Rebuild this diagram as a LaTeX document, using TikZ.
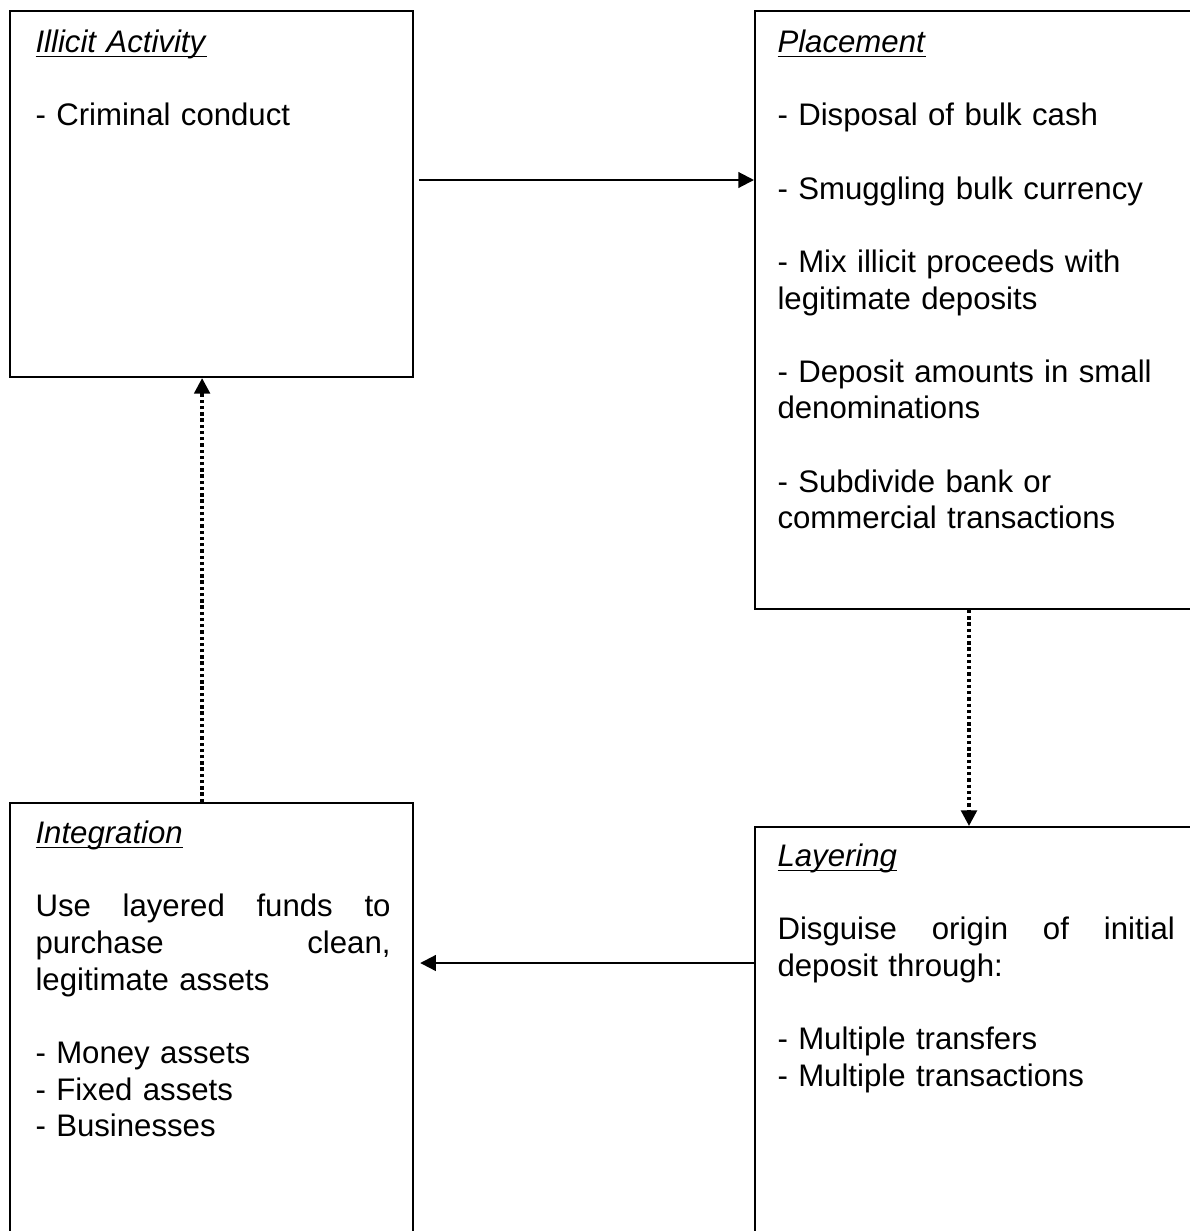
\documentclass[tikz,border=0pt]{standalone}
\usepackage{fontspec}
\setmainfont{Liberation Sans}
\usetikzlibrary{arrows.meta}
\newcommand\headline[1]{\underline{\smash{\textit{#1}}}}
\newcommand\fullline[2]{\leavevmode\hbox to #1{#2}}
\begin{document}
\begin{tikzpicture}[x=0.385pt,y=-0.385pt,
  box/.style={draw,line width=0.8pt,inner sep=0,anchor=north west},
  txt/.style={anchor=north west,inner sep=0,align=left,font=\fontsize{12}{14.1}\selectfont},
  arr/.style={line width=0.8pt,-{Triangle[length=6pt,width=6pt]}},
  dotarr/.style={arr,line width=1.3pt,dash pattern=on 1.3pt off 1.1pt}]
\useasboundingbox (0,0) rectangle (1190,1231);
\clip (0,0) rectangle (1190,1231);
% boxes
\node[box,minimum width=155.2pt,minimum height=140.9pt] (illicit) at (9,10) {};
\node[box,minimum width=200pt,minimum height=230.2pt] (placement) at (754,10) {};
\node[box,minimum width=200pt,minimum height=200pt] (layering) at (754,826) {};
\node[box,minimum width=155.2pt,minimum height=200pt] (integration) at (9,802) {};
% texts
\node[txt,text width=150pt] (illicitT) at (35,26.5)
  {\strut\headline{Illicit Activity}\\[14.1pt]- Criminal conduct};
\node[txt,text width=153pt] (placementT) at (777,26.5)
  {\strut\headline{Placement}\\[14.1pt]
   - Disposal of bulk cash\\[14.1pt]
   - Smuggling bulk currency\\[14.1pt]
   - Mix illicit proceeds with\\
   legitimate deposits\\[14.1pt]
   - Deposit amounts in small\\
   denominations\\[14.1pt]
   - Subdivide bank or\\
   commercial transactions};
\node[txt,text width=136.7pt] (integrationT) at (35,817.5)
  {\strut\headline{Integration}\\[14.1pt]
   \fullline{136.7pt}{Use\hfill layered\hfill funds\hfill to}\\
   \fullline{136.7pt}{purchase\hfill clean,}\\
   legitimate assets\\[14.1pt]
   - Money assets\\
   - Fixed assets\\
   - Businesses};
\node[txt,text width=153pt] (layeringT) at (777,840.5)
  {\strut\headline{Layering}\\[14.1pt]
   \fullline{153pt}{Disguise\hfill origin\hfill of\hfill initial}\\
   deposit through:\\[14.1pt]
   - Multiple transfers\\
   - Multiple transactions};
% connectors
\draw[arr] ([shift={(5,170)}]illicit.north east) -- ([shift={(0,170)}]placement.north west);
\draw[dotarr] ([shift={(215,0)}]placement.south west) -- ([shift={(215,0)}]layering.north west);
\draw[arr] ([shift={(0,137)}]layering.north west) -- ([shift={(6,161)}]integration.north east);
\draw[dotarr] ([shift={(-9.5,0)}]integration.north) -- ([shift={(-9.5,0)}]illicit.south);
\end{tikzpicture}
\end{document}
